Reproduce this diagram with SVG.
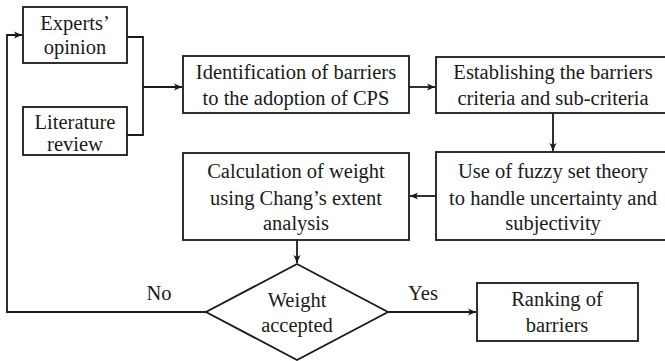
<svg xmlns="http://www.w3.org/2000/svg" width="665" height="361" viewBox="0 0 665 361">
<defs>
<marker id="arr" markerUnits="userSpaceOnUse" markerWidth="10" markerHeight="10" refX="9" refY="5" orient="auto">
<path d="M1,1.5 L9,5 L1,8.5 L3,5 Z" fill="#1a1a1a"/>
</marker>
<style>
.box{fill:#fff;stroke:#1a1a1a;stroke-width:1.8}
.ln{fill:none;stroke:#1a1a1a;stroke-width:1.8}
</style>
</defs>
<rect width="665" height="361" fill="#fff"/>
<g font-family="Liberation Serif, DejaVu Serif, Times New Roman, serif" font-size="20.5" fill="#1a1a1a" text-anchor="middle">
<g id="connectors">
<path class="ln" d="M127,37 H143 V135 H127"/>
<path class="ln" d="M143,87 H182" marker-end="url(#arr)"/>
<path class="ln" d="M409,87 H435" marker-end="url(#arr)"/>
<path class="ln" d="M553,113 V151" marker-end="url(#arr)"/>
<path class="ln" d="M436,196 H410" marker-end="url(#arr)"/>
<path class="ln" d="M297,240 V263" marker-end="url(#arr)"/>
<path class="ln" d="M388,312 H476" marker-end="url(#arr)"/>
<path class="ln" d="M206,312 H7 V35 H22" marker-end="url(#arr)"/>
<text x="159" y="300">No</text>
<text x="423" y="300">Yes</text>
</g>
<g id="experts">
<rect class="box" x="23" y="7" width="104" height="56"/>
<text x="75" y="30">Experts’</text>
<text x="75" y="54">opinion</text>
</g>
<g id="literature">
<rect class="box" x="23" y="107" width="104" height="48"/>
<text x="75" y="129">Literature</text>
<text x="75" y="151">review</text>
</g>
<g id="identification">
<rect class="box" x="183" y="56" width="226" height="57"/>
<text x="296" y="79">Identification of barriers</text>
<text x="296" y="105">to the adoption of CPS</text>
</g>
<g id="establishing">
<rect class="box" x="436" y="57" width="230" height="56"/>
<text x="553" y="79">Establishing the barriers</text>
<text x="553" y="105">criteria and sub-criteria</text>
</g>
<g id="fuzzy">
<rect class="box" x="436" y="152" width="230" height="88"/>
<text x="553" y="178">Use of fuzzy set theory</text>
<text x="553" y="205">to handle uncertainty and</text>
<text x="553" y="230">subjectivity</text>
</g>
<g id="calculation">
<rect class="box" x="183" y="153" width="226" height="87"/>
<text x="296" y="178">Calculation of weight</text>
<text x="296" y="205">using Chang’s extent</text>
<text x="296" y="230">analysis</text>
</g>
<g id="decision">
<polygon class="box" points="297,264 388,312 297,360 206,312"/>
<text x="297" y="307">Weight</text>
<text x="297" y="332">accepted</text>
</g>
<g id="ranking">
<rect class="box" x="477" y="283" width="161" height="58"/>
<text x="557" y="306">Ranking of</text>
<text x="557" y="332">barriers</text>
</g>
</g>
</svg>
